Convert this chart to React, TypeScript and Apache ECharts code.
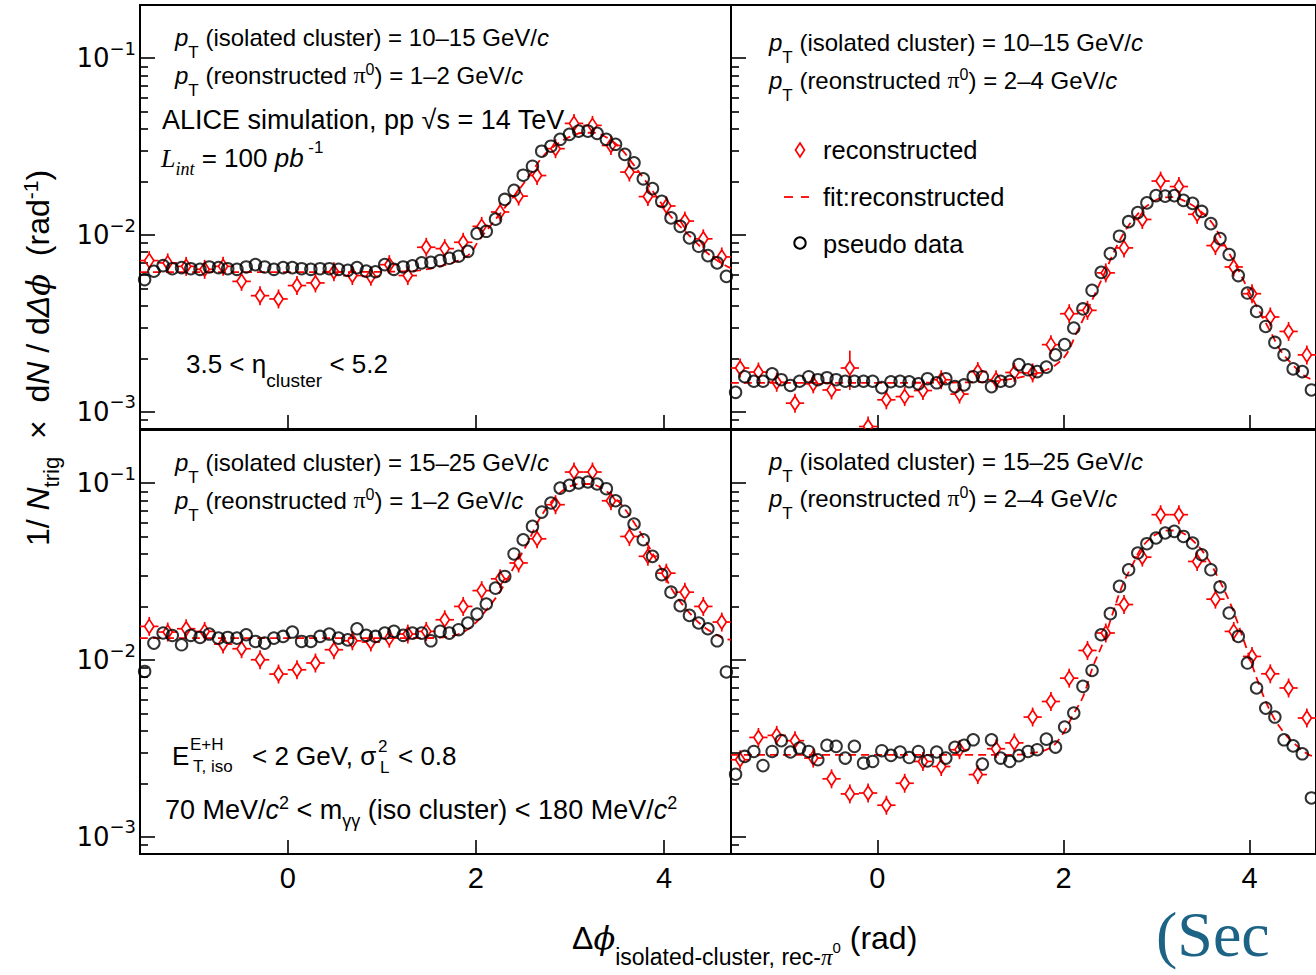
import React, { useEffect, useRef } from "react";
import * as echarts from "echarts";

const SANS = '"Liberation Sans", Arial, Helvetica, sans-serif';
const SERIF = '"Liberation Serif", "Times New Roman", serif';
const DSERIF = '"DejaVu Serif", serif';
const DSANS = '"DejaVu Sans", sans-serif';
const RED = "#ff0000";

const X_MIN = -Math.PI / 2;
const X_MAX = (3 * Math.PI) / 2;
const Y_MIN = 0.0008;
const Y_MAX = 0.2;

const xTickValues = [0, 2, 4];
const yMajorValues = [0.001, 0.01, 0.1];
const yMinorValues = [0.0009, 0.002, 0.003, 0.004, 0.005, 0.006, 0.007, 0.008, 0.009, 0.02, 0.03, 0.04, 0.05, 0.06, 0.07, 0.08, 0.09];

// ---------- pseudo data (64 bins) ----------
const pseudoTL = [0.0056, 0.00624, 0.00671, 0.00645, 0.00654, 0.00645, 0.0064, 0.0066, 0.00654, 0.00645, 0.0064, 0.0066, 0.0068, 0.0066, 0.0064, 0.00654, 0.00654, 0.00645, 0.0064, 0.00645, 0.00645, 0.0064, 0.00632, 0.00654, 0.00625, 0.0062, 0.0068, 0.0064, 0.0066, 0.0067, 0.00696, 0.00701, 0.00717, 0.00739, 0.00759, 0.00809, 0.0102, 0.0105, 0.0123, 0.0159, 0.0179, 0.0218, 0.0245, 0.0298, 0.0318, 0.0348, 0.0371, 0.0387, 0.0387, 0.0376, 0.0348, 0.0326, 0.0286, 0.0256, 0.0208, 0.0183, 0.0155, 0.0125, 0.0112, 0.00964, 0.00864, 0.00765, 0.00696, 0.00584];
const pseudoTR = [0.00129, 0.00158, 0.00149, 0.00149, 0.00164, 0.00152, 0.00141, 0.00149, 0.00158, 0.00152, 0.00156, 0.00152, 0.00149, 0.00149, 0.00149, 0.00149, 0.00137, 0.00148, 0.00149, 0.00148, 0.00144, 0.00154, 0.00146, 0.00154, 0.00139, 0.00142, 0.00158, 0.00158, 0.00139, 0.00149, 0.00149, 0.00185, 0.00173, 0.00169, 0.00179, 0.0021, 0.0024, 0.00298, 0.00382, 0.00487, 0.00615, 0.00786, 0.00985, 0.0119, 0.0134, 0.0152, 0.0167, 0.0166, 0.0167, 0.0157, 0.0151, 0.0136, 0.0116, 0.00955, 0.00776, 0.0059, 0.0047, 0.0037, 0.00304, 0.00247, 0.0021, 0.00175, 0.00169, 0.00133];
const pseudoBL = [0.00862, 0.01247, 0.01422, 0.01377, 0.0122, 0.0138, 0.01342, 0.01403, 0.0133, 0.01342, 0.0133, 0.0139, 0.01274, 0.01247, 0.0133, 0.0136, 0.0144, 0.01274, 0.01274, 0.0136, 0.01403, 0.0133, 0.013, 0.01503, 0.0138, 0.0136, 0.0142, 0.01452, 0.0138, 0.0142, 0.0142, 0.01285, 0.01452, 0.0142, 0.01484, 0.0162, 0.0182, 0.02075, 0.0255, 0.0297, 0.0398, 0.0479, 0.057, 0.0687, 0.0773, 0.0939, 0.0972, 0.1003, 0.1016, 0.099, 0.0931, 0.0796, 0.0693, 0.0588, 0.0479, 0.0386, 0.0304, 0.0242, 0.0203, 0.01788, 0.0162, 0.01503, 0.01285, 0.00856];
const pseudoBR = [0.00226, 0.00285, 0.00304, 0.00253, 0.00304, 0.0035, 0.00302, 0.00318, 0.00304, 0.00273, 0.00329, 0.00325, 0.00279, 0.00325, 0.00261, 0.00267, 0.00307, 0.00289, 0.00302, 0.00281, 0.00304, 0.00269, 0.00302, 0.00279, 0.00321, 0.00329, 0.00354, 0.00258, 0.00354, 0.00279, 0.00267, 0.00288, 0.00304, 0.00311, 0.00357, 0.00322, 0.00418, 0.00501, 0.0071, 0.00873, 0.0139, 0.0183, 0.0261, 0.0324, 0.0403, 0.0455, 0.049, 0.0523, 0.0534, 0.05, 0.0459, 0.0394, 0.0324, 0.0259, 0.01845, 0.0136, 0.00962, 0.00695, 0.00535, 0.00476, 0.00354, 0.00327, 0.00295, 0.00166];

// ---------- reconstructed (32 bins) ----------
const recoTL = [0.00717, 0.00696, 0.00665, 0.0064, 0.00665, 0.00547, 0.00454, 0.00435, 0.00518, 0.00536, 0.0062, 0.0059, 0.00584, 0.0068, 0.0059, 0.00853, 0.00838, 0.0091, 0.0112, 0.0135, 0.0166, 0.0217, 0.0308, 0.0428, 0.0417, 0.0321, 0.0227, 0.0165, 0.0146, 0.012, 0.00952, 0.00752];
const recoTR = [0.00177, 0.00168, 0.00147, 0.00112, 0.00144, 0.00133, 0.00177, 0.000826, 0.00117, 0.00122, 0.00132, 0.00152, 0.00126, 0.00169, 0.00152, 0.00167, 0.00166, 0.0024, 0.00359, 0.00375, 0.00611, 0.00846, 0.01225, 0.0202, 0.0188, 0.0131, 0.00872, 0.0066, 0.00466, 0.00344, 0.00285, 0.0021];
const recoBL = [0.0155, 0.0144, 0.01503, 0.01452, 0.01231, 0.01159, 0.01004, 0.00833, 0.00881, 0.00962, 0.01144, 0.01285, 0.01264, 0.0133, 0.01403, 0.01452, 0.0169, 0.0201, 0.0247, 0.0288, 0.0354, 0.0485, 0.0756, 0.1157, 0.1157, 0.0796, 0.05, 0.0386, 0.031, 0.0242, 0.0201, 0.0164];
const recoBR = [0.00273, 0.00365, 0.00375, 0.0035, 0.00279, 0.00213, 0.00175, 0.00177, 0.00151, 0.00201, 0.00267, 0.0025, 0.00311, 0.00225, 0.00315, 0.0034, 0.00476, 0.00583, 0.0079, 0.01133, 0.01422, 0.0206, 0.0382, 0.0664, 0.0664, 0.0361, 0.0221, 0.01452, 0.01048, 0.00836, 0.00695, 0.0047];

// large vertical error bars on reconstructed points: bin -> [low, high]
const recoErrTR: Record<number, [number, number]> = { 6: [0.00133, 0.00222], 7: [0.0006, 0.00094] };

// ---------- fits (x in rad, value) ----------
const fitTL: [number, number][] = [[-1.5708, 0.00617], [-1.0, 0.00617], [0, 0.00617], [1.0, 0.0062], [1.405, 0.00632], [1.619, 0.00666], [1.796, 0.00711], [1.938, 0.00785], [2.026, 0.00923], [2.15, 0.0112], [2.292, 0.01395], [2.434, 0.01734], [2.576, 0.022], [2.717, 0.028], [2.859, 0.0326], [3.001, 0.036], [3.142, 0.0379], [3.248, 0.0379], [3.391, 0.0356], [3.532, 0.0312], [3.674, 0.0251], [3.816, 0.0198], [3.957, 0.0155], [4.099, 0.01225], [4.241, 0.0103], [4.383, 0.00864], [4.524, 0.00743], [4.667, 0.00666], [4.712, 0.0065]];
const fitTR: [number, number][] = [[-1.5708, 0.00146], [0, 0.00146], [1.0, 0.00147], [1.395, 0.00152], [1.82, 0.00173], [2.015, 0.00206], [2.14, 0.0028], [2.246, 0.00364], [2.352, 0.00481], [2.458, 0.00638], [2.565, 0.00849], [2.671, 0.01074], [2.795, 0.0131], [2.919, 0.0149], [3.061, 0.01626], [3.167, 0.0164], [3.309, 0.0155], [3.45, 0.01395], [3.593, 0.01177], [3.699, 0.00943], [3.805, 0.00746], [3.912, 0.00585], [4.018, 0.0045], [4.124, 0.00355], [4.23, 0.0028], [4.337, 0.0022], [4.478, 0.00181], [4.603, 0.00158], [4.712, 0.0015]];
const fitBL: [number, number][] = [[-1.5708, 0.0133], [0, 0.0133], [1.0, 0.0133], [1.406, 0.0133], [1.725, 0.0136], [1.938, 0.0152], [2.115, 0.0193], [2.257, 0.0244], [2.398, 0.0331], [2.54, 0.0449], [2.682, 0.0636], [2.823, 0.0807], [2.966, 0.094], [3.107, 0.099], [3.213, 0.099], [3.391, 0.0899], [3.532, 0.0773], [3.674, 0.0608], [3.816, 0.0459], [3.957, 0.0338], [4.099, 0.0244], [4.241, 0.0193], [4.418, 0.0155], [4.631, 0.0133], [4.712, 0.013]];
const fitBR: [number, number][] = [[-1.5708, 0.00291], [0, 0.00291], [1.0, 0.00291], [1.395, 0.00291], [1.608, 0.00295], [1.856, 0.00318], [1.998, 0.00386], [2.104, 0.00491], [2.211, 0.00622], [2.317, 0.0092], [2.423, 0.01247], [2.53, 0.01845], [2.636, 0.0267], [2.742, 0.0346], [2.849, 0.0439], [2.99, 0.0512], [3.132, 0.0541], [3.238, 0.0534], [3.38, 0.0479], [3.522, 0.0394], [3.663, 0.0291], [3.805, 0.0201], [3.947, 0.01247], [4.088, 0.00757], [4.231, 0.00501], [4.372, 0.00386], [4.514, 0.00325], [4.638, 0.00291], [4.712, 0.00285]];

const panels = [
  { left: 140, top: 5, width: 591, height: 424, pseudo: pseudoTL, reco: recoTL, fit: fitTL, errs: {} as Record<number, [number, number]>, yLabels: true, xLabels: false },
  { left: 731, top: 5, width: 592, height: 424, pseudo: pseudoTR, reco: recoTR, fit: fitTR, errs: recoErrTR, yLabels: false, xLabels: false },
  { left: 140, top: 430, width: 591, height: 424, pseudo: pseudoBL, reco: recoBL, fit: fitBL, errs: {} as Record<number, [number, number]>, yLabels: true, xLabels: true },
  { left: 731, top: 430, width: 592, height: 424, pseudo: pseudoBR, reco: recoBR, fit: fitBR, errs: {} as Record<number, [number, number]>, yLabels: false, xLabels: true },
];

function binCenters(n: number) {
  const w = (X_MAX - X_MIN) / n;
  const c: number[] = [];
  for (let i = 0; i < n; i++) c.push(X_MIN + (i + 0.5) * w);
  return c;
}

function makeRich(s: number) {
  return {
    n: { fontSize: s, fontFamily: SANS, verticalAlign: "middle" },
    i: { fontSize: s, fontFamily: SANS, fontStyle: "italic", verticalAlign: "middle" },
    sub: { fontSize: Math.round(s * 0.72), fontFamily: SANS, verticalAlign: "middle", padding: [Math.round(s * 1.25), 0, 0, 0] },
    sub2: { fontSize: Math.round(s * 0.68), fontFamily: SANS, verticalAlign: "middle", padding: [Math.round(s * 0.8), 0, 0, 0] },
    sub3: { fontSize: Math.round(s * 0.72), fontFamily: SANS, verticalAlign: "middle", padding: [Math.round(s * 1.2), 0, 0, 0] },
    sup: { fontSize: Math.round(s * 0.65), fontFamily: SANS, verticalAlign: "middle", padding: [0, 0, Math.round(s * 0.5), 0] },
    sup2: { fontSize: Math.round(s * 0.65), fontFamily: SANS, verticalAlign: "middle", padding: [0, 0, Math.round(s * 0.85), 0] },
    gr: { fontSize: s, fontFamily: SERIF, verticalAlign: "middle" },
    gri: { fontSize: s, fontFamily: DSERIF, fontStyle: "italic", verticalAlign: "middle" },
    Lit: { fontSize: s, fontFamily: SERIF, fontStyle: "italic", verticalAlign: "middle" },
    isub: { fontSize: Math.round(s * 0.7), fontFamily: SERIF, fontStyle: "italic", verticalAlign: "middle", padding: [Math.round(s * 0.8), 0, 0, 0] },
    spi: { fontSize: Math.round(s * 0.72), fontFamily: SERIF, fontStyle: "italic", verticalAlign: "middle", padding: [Math.round(s * 1.2), 0, 0, 0] },
    ssup: { fontSize: Math.round(s * 0.48), fontFamily: SANS, verticalAlign: "middle", padding: [Math.round(s * 0.55), 0, 0, 0] },
  };
}

function rt(x: number, y: number, text: string, s: number, extra: any = {}, align = "left") {
  return {
    type: "text",
    x,
    y,
    silent: true,
    z: 50,
    style: { text, fill: "#000", fontSize: s, fontFamily: SANS, align, verticalAlign: "middle", rich: makeRich(s) },
    ...extra,
  };
}

function plain(x: number, y: number, text: string, s: number, font = SANS, extraStyle: any = {}) {
  return { type: "text", x, y, silent: true, z: 50, style: { text, fill: "#000", fontSize: s, fontFamily: font, align: "left", verticalAlign: "middle", ...extraStyle } };
}

function buildOption() {
  const grids = panels.map((p) => ({ left: p.left, top: p.top, width: p.width, height: p.height, show: true, borderColor: "#000", borderWidth: 2, backgroundColor: "transparent" }));
  const xAxes = panels.map((p, g) => ({
    type: "value",
    gridIndex: g,
    min: X_MIN,
    max: X_MAX,
    position: "bottom",
    axisLine: { show: false, onZero: false },
    splitLine: { show: false },
    axisTick: { show: true, inside: true, length: 14, customValues: xTickValues, lineStyle: { color: "#000", width: 1.6 } },
    axisLabel: { show: p.xLabels, customValues: xTickValues, color: "#000", fontSize: 29, fontFamily: SANS, margin: 9, formatter: (v: number) => String(Math.round(v)) },
  }));
  const yAxes: any[] = [];
  panels.forEach((p, g) => {
    yAxes.push({
      type: "log",
      logBase: 10,
      gridIndex: g,
      min: Y_MIN,
      max: Y_MAX,
      position: "left",
      axisLine: { show: false, onZero: false },
      splitLine: { show: false },
      axisTick: { show: true, inside: true, length: 15, customValues: yMajorValues, lineStyle: { color: "#000", width: 1.6 } },
      axisLabel: {
        show: p.yLabels,
        customValues: yMajorValues,
        margin: 4,
        color: "#000",
        formatter: (v: number) => "{b|10}{e|−" + Math.round(-Math.log10(v)) + "}",
        rich: {
          b: { fontSize: 26, fontFamily: DSANS, verticalAlign: "middle" },
          e: { fontSize: 18, fontFamily: DSANS, verticalAlign: "middle", padding: [0, 0, 20, 0] },
        },
      },
    });
    yAxes.push({
      type: "log",
      logBase: 10,
      gridIndex: g,
      min: Y_MIN,
      max: Y_MAX,
      position: "left",
      axisLine: { show: false, onZero: false },
      splitLine: { show: false },
      axisTick: { show: true, inside: true, length: 8, customValues: yMinorValues, lineStyle: { color: "#000", width: 1.6 } },
      axisLabel: { show: false },
    });
  });

  const series: any[] = [];
  panels.forEach((p, g) => {
    const cx64 = binCenters(p.pseudo.length);
    const cx32 = binCenters(p.reco.length);
    const w32 = (X_MAX - X_MIN) / p.reco.length;
    const recoData = p.reco.map((v, j) => {
      const e = p.errs[j];
      return [cx32[j], v, e ? e[0] : v, e ? e[1] : v];
    });
    series.push({
      type: "custom",
      xAxisIndex: g,
      yAxisIndex: g * 2,
      silent: true,
      clip: true,
      z: 3,
      data: recoData,
      renderItem: (params: any, api: any) => {
        const x = api.value(0);
        const y = api.value(1);
        const lo = api.value(2);
        const hi = api.value(3);
        const c = api.coord([x, y]);
        const l = api.coord([x - w32 / 2, y]);
        const r = api.coord([x + w32 / 2, y]);
        const hx = 4.6;
        const hy = 7;
        const stub = 2.5;
        const top = Math.min(api.coord([x, hi])[1], c[1] - hy - stub);
        const bot = Math.max(api.coord([x, lo])[1], c[1] + hy + stub);
        const st = { stroke: RED, lineWidth: 1.7, fill: "none" };
        return {
          type: "group",
          children: [
            { type: "polygon", shape: { points: [[c[0], c[1] - hy], [c[0] + hx, c[1]], [c[0], c[1] + hy], [c[0] - hx, c[1]]] }, style: st },
            { type: "line", shape: { x1: l[0], y1: c[1], x2: c[0] - hx, y2: c[1] }, style: st },
            { type: "line", shape: { x1: c[0] + hx, y1: c[1], x2: r[0], y2: c[1] }, style: st },
            { type: "line", shape: { x1: c[0], y1: c[1] - hy, x2: c[0], y2: top }, style: st },
            { type: "line", shape: { x1: c[0], y1: c[1] + hy, x2: c[0], y2: bot }, style: st },
          ],
        };
      },
    });
    series.push({
      type: "line",
      xAxisIndex: g,
      yAxisIndex: g * 2,
      silent: true,
      z: 4,
      data: p.fit,
      smooth: 0.35,
      showSymbol: false,
      symbol: "none",
      clip: true,
      lineStyle: { color: RED, width: 1.8, type: [8, 5] },
    });
    series.push({
      type: "scatter",
      xAxisIndex: g,
      yAxisIndex: g * 2,
      silent: true,
      z: 5,
      clip: true,
      symbol: "circle",
      symbolSize: 11.5,
      data: p.pseudo.map((v, i) => [cx64[i], v]),
      itemStyle: { color: "rgba(255,255,255,0)", borderColor: "#000", borderWidth: 2 },
    });
  });

  const graphics: any[] = [
    // top-left
    rt(175, 37, "{i|p}{sub|T}{n| (isolated cluster) = 10–15 GeV/}{i|c}", 24),
    rt(175, 75, "{i|p}{sub|T}{n| (reonstructed }{gr|π}{sup|0}{n|) = 1–2 GeV/}{i|c}", 24),
    rt(162, 120, "{n|ALICE simulation, pp √s = 14 TeV}", 27),
    rt(161, 158, "{Lit|L}{isub|int}{n| = 100 }{i|pb}{sup2| -1}", 26),
    rt(186, 364, "{n|3.5 < η}{sub|cluster}{n| < 5.2}", 26),
    // top-right
    rt(769, 42, "{i|p}{sub|T}{n| (isolated cluster) = 10–15 GeV/}{i|c}", 24),
    rt(769, 80, "{i|p}{sub|T}{n| (reonstructed }{gr|π}{sup|0}{n|) = 2–4 GeV/}{i|c}", 24),
    plain(823, 150, "reconstructed", 25.5),
    plain(823, 197, "fit:reconstructed", 25.5),
    plain(823, 244, "pseudo data", 25.5),
    { type: "polygon", silent: true, z: 50, shape: { points: [[800, 143], [804.5, 150], [800, 157], [795.5, 150]] }, style: { stroke: RED, lineWidth: 1.7, fill: "none" } },
    { type: "line", silent: true, z: 50, shape: { x1: 784, y1: 197, x2: 793, y2: 197 }, style: { stroke: RED, lineWidth: 1.8 } },
    { type: "line", silent: true, z: 50, shape: { x1: 801, y1: 197, x2: 809, y2: 197 }, style: { stroke: RED, lineWidth: 1.8 } },
    { type: "circle", silent: true, z: 50, shape: { cx: 800, cy: 243, r: 5.7 }, style: { stroke: "#000", lineWidth: 2, fill: "none" } },
    // bottom-left
    rt(175, 462, "{i|p}{sub|T}{n| (isolated cluster) = 15–25 GeV/}{i|c}", 24),
    rt(175, 500, "{i|p}{sub|T}{n| (reonstructed }{gr|π}{sup|0}{n|) = 1–2 GeV/}{i|c}", 24),
    plain(172, 756, "E", 26),
    plain(190, 744, "E+H", 17),
    plain(193, 766, "T, iso", 17),
    plain(252, 756, "< 2 GeV, σ", 26),
    plain(378, 746, "2", 17),
    plain(380, 767, "L", 17),
    plain(398, 756, "< 0.8", 26),
    rt(165, 810, "{n|70 MeV/}{i|c}{sup|2}{n| < m}{sub2|γγ}{n| (iso cluster) < 180 MeV/}{i|c}{sup|2}", 27),
    // bottom-right
    rt(769, 461, "{i|p}{sub|T}{n| (isolated cluster) = 15–25 GeV/}{i|c}", 24),
    rt(769, 498, "{i|p}{sub|T}{n| (reonstructed }{gr|π}{sup|0}{n|) = 2–4 GeV/}{i|c}", 24),
    // y axis title
    rt(38, 358, "{n|1/ }{i|N}{sub2|trig}{n|  ×  d}{i|N}{n| / d}{i|Δ}{gri|ϕ}{n|  (rad}{sup|-1}{n|)}", 32, { rotation: Math.PI / 2 }, "center"),
    // x axis title
    rt(572, 938, "{n|Δ}{gri|ϕ}{sub3|isolated-cluster, rec-}{spi|π}{ssup|0}{n| (rad)}", 32),
    // page artifact
    plain(1156, 934, "(Sec", 64, SERIF, { fill: "#1c6386" }),
  ];

  return {
    animation: false,
    backgroundColor: "#ffffff",
    grid: grids,
    xAxis: xAxes,
    yAxis: yAxes,
    series,
    graphic: graphics,
  };
}

export default function App() {
  const ref = useRef<HTMLDivElement>(null);
  useEffect(() => {
    document.body.style.margin = "0";
    const chart = echarts.init(ref.current as HTMLDivElement, null, { renderer: "svg" });
    chart.setOption(buildOption() as any);
    return () => chart.dispose();
  }, []);
  return <div ref={ref} style={{ width: 1316, height: 975 }} />;
}
